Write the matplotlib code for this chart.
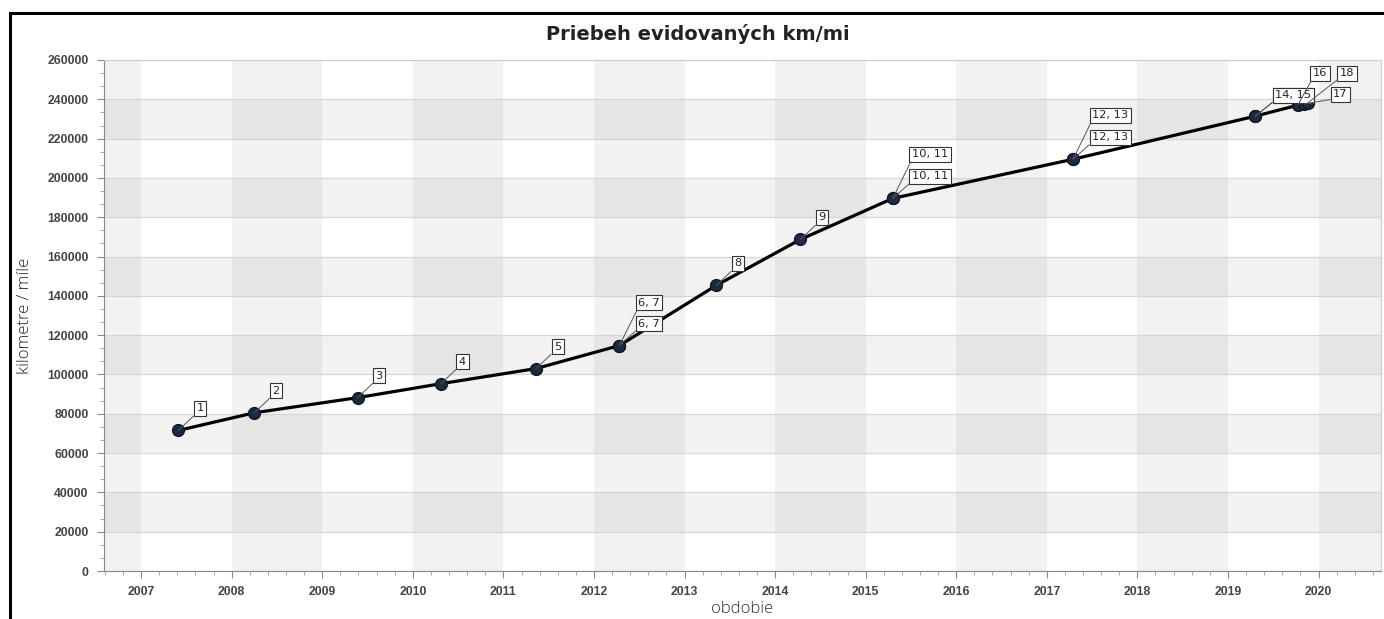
import numpy as np
import matplotlib
matplotlib.use('Agg')
import matplotlib.pyplot as plt
from matplotlib.ticker import AutoMinorLocator, MultipleLocator
from matplotlib.lines import Line2D

# data (decimal year, km)
years = [2007.41, 2008.25, 2009.39, 2010.31, 2011.36, 2012.28, 2012.28, 2013.35, 2014.28,
         2015.30, 2015.30, 2017.29, 2017.29, 2019.30, 2019.30, 2019.77, 2019.84, 2019.88]
km = [71500, 80500, 88200, 95300, 103000, 114700, 114700, 145300, 168700,
      189600, 189600, 209500, 209500, 231400, 231400, 237000, 237600, 238100]
point_labels = ["1", "2", "3", "4", "5", "6, 7", "6, 7", "8", "9",
                "10, 11", "10, 11", "12, 13", "12, 13", "14, 15", "14, 15", "16", "17", "18"]
year_ticks = list(range(2007, 2021))

fig = plt.figure(figsize=(13.84, 6.19), dpi=100)
ax = fig.add_axes([104/1384, 1 - 571/619, (1381 - 104)/1384, (571 - 60)/619])

xmin, xmax = 2006.59, 2020.69
ymin, ymax = 0, 260000
ax.set_xlim(xmin, xmax)
ax.set_ylim(ymin, ymax)

# background bands
for y in range(2006, 2021, 2):
    ax.axvspan(max(y, xmin), min(y + 1, xmax), color='black', alpha=0.05, lw=0, zorder=0)
for v in range(20000, 260000, 40000):
    ax.axhspan(v, v + 20000, color='black', alpha=0.05, lw=0, zorder=0)
ax.yaxis.grid(True, color='#d6d6d6', lw=0.9, zorder=1)
ax.set_axisbelow(True)

ax.plot(years, km, color='black', lw=2.3, zorder=3)
ax.plot(years, km, 'o', color='#1b2a3e', ms=8.5, mec='#0e1826', zorder=4)

# callout offsets in pixels (dx, dy)
offsets = [(18, 17), (18, 17), (18, 17), (18, 17), (18, 17), (19, 38), (19, 17), (18, 17), (18, 17),
           (19, 39), (19, 17), (19, 39), (19, 17), (20, 16), (20, 16), (15, 27), (29, 5), (32, 25)]
for x, y, lab, (dx, dy) in zip(years, km, point_labels, offsets):
    ax.annotate(lab, xy=(x, y), xytext=(dx, dy), textcoords='offset pixels',
                ha='left', va='bottom', fontsize=8.2, family='DejaVu Sans', color='#222222',
                bbox=dict(boxstyle='square,pad=0.22', fc='white', ec='#333333', lw=0.8),
                arrowprops=dict(arrowstyle='-', color='#555555', lw=0.7,
                                shrinkA=0, shrinkB=0, relpos=(0, 0)),
                zorder=5)

ax.set_xticks(year_ticks)
ax.xaxis.set_minor_locator(AutoMinorLocator(5))
ax.yaxis.set_major_locator(MultipleLocator(20000))
ax.yaxis.set_minor_locator(AutoMinorLocator(3))
ax.tick_params(which='major', length=5, color='#888888', pad=6)
ax.tick_params(which='minor', length=3, color='#999999')
for lab in ax.get_xticklabels() + ax.get_yticklabels():
    lab.set_fontfamily('Liberation Sans')
    lab.set_fontweight('bold')
    lab.set_fontsize(8.8)
    lab.set_color('#444444')

for side in ['top', 'right']:
    ax.spines[side].set_color('#cccccc')
for side in ['left', 'bottom']:
    ax.spines[side].set_color('#888888')

ax.set_xlabel('obdobie', family='Open Sans', fontweight='light', fontsize=12, color='#333333', labelpad=2)
ax.set_ylabel('kilometre / míle', family='Open Sans', fontweight='light', fontsize=12, color='#222222', labelpad=10)

fig.text(698/1384, 1 - 34/619, 'Priebeh evidovaných km/mi', ha='center', va='center',
         fontsize=14, fontweight='bold', family='DejaVu Sans', color='#222222')

# black frame at top and left
fig.add_artist(Line2D([10/1384, 1], [1 - 13/619, 1 - 13/619], color='black', lw=2.2, transform=fig.transFigure))
fig.add_artist(Line2D([10/1384, 10/1384], [0, 1 - 13/619], color='black', lw=2.2, transform=fig.transFigure))

fig.savefig('out.png', dpi=100)
